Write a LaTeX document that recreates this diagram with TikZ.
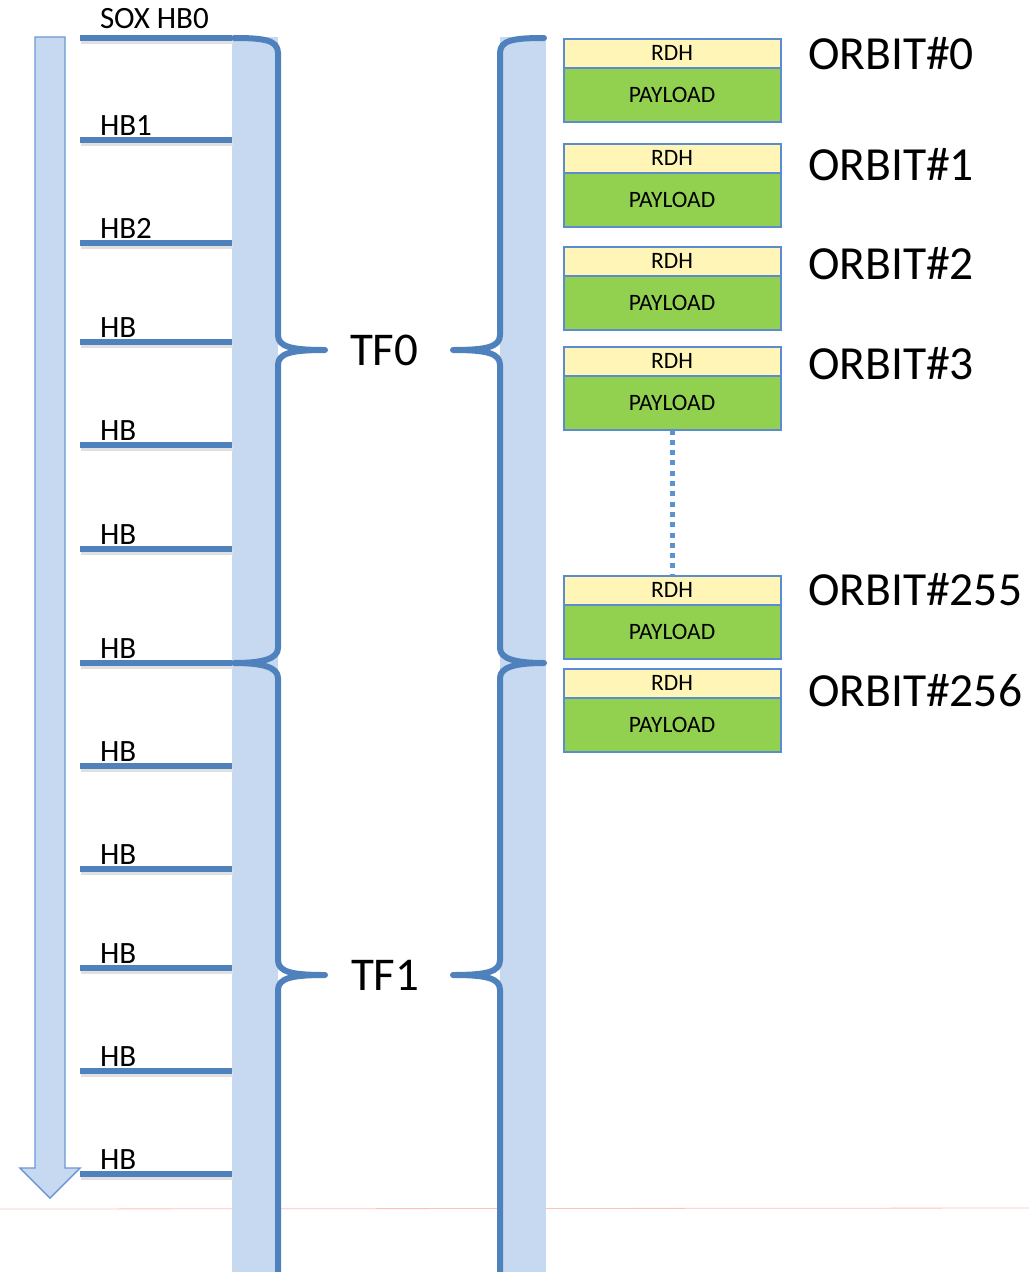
\documentclass[tikz,border=0pt]{standalone}
\usepackage{fontspec}
\setmainfont{Carlito}
\begin{document}
\begin{tikzpicture}[x=1pt,y=-1pt,
  every node/.style={inner sep=0pt, outer sep=0pt},
  bandfill/.style={fill=bandblue, draw=none},
  tick/.style={draw=lineblue, line width=5.5pt},
  tickshadow/.style={draw=black!12, line width=5pt},
  bracepath/.style={draw=lineblue, line width=6pt, line cap=round, line join=round},
  hblabel/.style={anchor=base west, font=\fontsize{31}{31}\selectfont},
  tflabel/.style={anchor=base west, font=\fontsize{47}{47}\selectfont},
  orbitlabel/.style={anchor=base west, font=\fontsize{47.5}{47.5}\selectfont},
  rdhbox/.style={draw=boxblue, line width=2pt, fill=rdhyellow, minimum width=217pt,
    minimum height=28.5pt, font=\fontsize{23.5}{23.5}\selectfont},
  paybox/.style={draw=boxblue, line width=2pt, fill=paygreen, minimum width=217pt,
    minimum height=54pt, font=\fontsize{23.5}{23.5}\selectfont},
  gapline/.style={draw=dotblue, line width=5pt, dash pattern=on 5pt off 5.3pt},
]
\definecolor{bandblue}{HTML}{C6D9F1}
\definecolor{lineblue}{HTML}{4F81BD}
\definecolor{boxblue}{HTML}{5B8BD0}
\definecolor{dotblue}{HTML}{5B93D0}
\definecolor{rdhyellow}{HTML}{FEF5B6}
\definecolor{paygreen}{HTML}{92D050}
\definecolor{arrowedge}{HTML}{6A97D4}

\useasboundingbox (0,0) rectangle (1029,1272);

% faint page rule near the bottom
\draw[draw=red!25, line width=0.8pt] (0,1209) -- (1029,1208);

% time arrow
\draw[fill=bandblue, draw=arrowedge, line width=1.4pt, line join=miter]
  (35,37) -- (65,37) -- (65,1168) -- (80,1168) -- (50,1198) -- (20,1168) -- (35,1168) -- cycle;

% the two vertical bands
\path[bandfill] (232,37) rectangle (278,1272);
\path[bandfill] (500,37) rectangle (546,1272);

% heartbeat ticks
\foreach \y in {38,140,243,342,445,549,663,766,869,968,1071,1174}{
  \draw[tickshadow] (81,\y+3) -- (233,\y+3);
  \draw[tick] (80,\y) -- (232,\y);
}

% heartbeat labels
\node[hblabel] (hb0) at (100,28) {SOX HB0};
\node[hblabel] (hb1) at (100,135) {HB1};
\node[hblabel] (hb2) at (100,238) {HB2};
\foreach \y [count=\i from 3] in {342,445,549,663,766,869,968,1071,1174}{
  \node[hblabel] (hb\i) at (100,\y-5) {HB};
}

% braces grouping the heartbeats into time frames (left band, mirrored on the right band)
\foreach \sx/\sc in {0pt/1, 778pt/-1}{
\begin{scope}[xshift=\sx, xscale=\sc]
  \draw[bracepath]
    (234,38) .. controls (264,38) and (278,40) .. (278,53)
    -- (278,335) .. controls (278,347) and (292,350) .. (325,350)
    .. controls (292,350) and (278,353) .. (278,365)
    -- (278,648) .. controls (278,659) and (262,663) .. (234,663)
    .. controls (262,663) and (278,667) .. (278,678)
    -- (278,960) .. controls (278,972) and (292,975) .. (325,975)
    .. controls (292,975) and (278,978) .. (278,990)
    -- (278,1276);
\end{scope}
}

\node[tflabel] (tf0) at (350,365) {TF0};
\node[tflabel] (tf1) at (351,990) {TF1};

% orbit packets: RDH header on top of payload
\foreach \n/\t in {0/39, 1/144, 2/247, 3/347, 255/576, 256/669}{
  \node[rdhbox, anchor=north west] (rdh\n) at (563.5,\t) {RDH};
  \node[paybox, anchor=north] (pay\n) at (rdh\n.south) {PAYLOAD};
}

% skipped orbits
\draw[gapline] (pay3.south) -- (rdh255.north);

% orbit labels
\node[orbitlabel] (o0) at (808,69) {ORBIT\#0};
\node[orbitlabel] (o1) at (808,180) {ORBIT\#1};
\node[orbitlabel] (o2) at (808,279) {ORBIT\#2};
\node[orbitlabel] (o3) at (808,379) {ORBIT\#3};
\node[orbitlabel] (o255) at (808,605) {ORBIT\#255};
\node[orbitlabel] (o256) at (808,706) {ORBIT\#256};
\end{tikzpicture}
\end{document}
